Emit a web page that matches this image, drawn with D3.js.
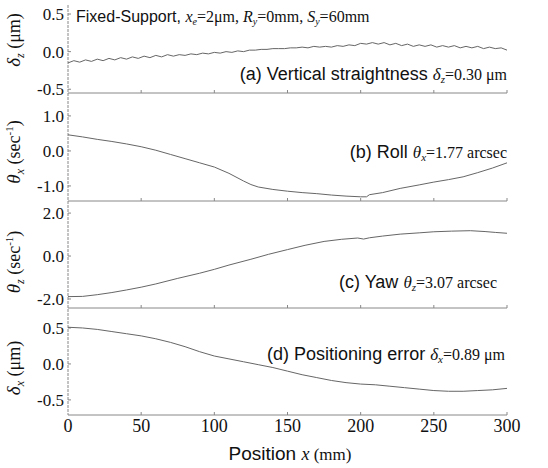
<!DOCTYPE html>
<html><head><meta charset="utf-8">
<script src="https://cdn.jsdelivr.net/npm/d3@7"></script>
<style>body{margin:0;background:#fff}</style>
</head><body><svg id="c" width="548" height="468"></svg>
<script>
// ---------- DATA ----------
const positionA = [0,4,8,12,16,20,24,28,32,36,40,44,48,52,56,60,64,68,72,76,80,84,88,92,96,100,104,108,112,116,120,124,128,132,136,140,144,148,152,156,160,164,168,172,176,180,184,188,192,196,200,204,208,212,216,220,224,228,232,236,240,244,248,252,256,260,264,268,272,276,280,284,288,292,296,300];
const straightnessA = [-0.15,-0.12,-0.14,-0.11,-0.13,-0.10,-0.12,-0.09,-0.11,-0.08,-0.10,-0.07,-0.09,-0.06,-0.08,-0.05,-0.07,-0.04,-0.06,-0.04,-0.05,-0.03,-0.04,-0.02,-0.03,-0.01,-0.02,0.00,-0.01,0.01,0.00,0.02,0.02,0.03,0.03,0.04,0.04,0.04,0.05,0.05,0.06,0.05,0.07,0.06,0.07,0.06,0.08,0.07,0.09,0.08,0.11,0.10,0.12,0.10,0.12,0.09,0.11,0.08,0.10,0.07,0.09,0.07,0.09,0.06,0.08,0.06,0.08,0.05,0.07,0.05,0.07,0.04,0.06,0.04,0.05,0.02];

const positionB = [0,10,20,30,40,50,60,70,80,90,100,110,120,125,130,140,150,160,170,180,190,200,204,206,215,227,240,250,260,270,280,290,300];
const rollB = [0.46,0.40,0.33,0.27,0.20,0.12,0.02,-0.10,-0.22,-0.34,-0.46,-0.64,-0.86,-0.96,-1.03,-1.10,-1.15,-1.19,-1.22,-1.26,-1.29,-1.31,-1.31,-1.25,-1.19,-1.07,-0.97,-0.89,-0.82,-0.74,-0.62,-0.49,-0.34];

const positionC = [0,10,20,30,40,50,60,75,90,100,110,125,137,150,162,175,187,198,202,206,215,227,240,250,262,275,285,292,300];
const yawC = [-1.89,-1.88,-1.80,-1.70,-1.58,-1.45,-1.30,-1.04,-0.80,-0.62,-0.42,-0.15,0.08,0.30,0.50,0.68,0.78,0.84,0.79,0.85,0.93,1.02,1.08,1.13,1.16,1.18,1.14,1.10,1.06];

const positionD = [0,10,20,30,40,50,60,70,80,90,100,110,120,130,140,150,160,170,180,190,200,210,220,230,240,250,260,270,280,290,300];
const positioningD = [0.51,0.50,0.48,0.45,0.42,0.39,0.35,0.30,0.24,0.17,0.11,0.07,0.03,-0.01,-0.05,-0.10,-0.15,-0.19,-0.23,-0.26,-0.28,-0.29,-0.31,-0.33,-0.35,-0.37,-0.38,-0.38,-0.37,-0.36,-0.34];

const xTicks = [0,50,100,150,200,250,300];
const yTicksA = [0.5,0,-0.5], yTickLabelsA = ["0.5","0.0","-0.5"];
const yTicksB = [1,0,-1], yTickLabelsB = ["1.0","0.0","-1.0"];
const yTicksC = [2,0,-2], yTickLabelsC = ["2.0","0.0","-2.0"];
const yTicksD = [0.5,0,-0.5], yTickLabelsD = ["0.5","0.0","-0.5"];

// ---------- LAYOUT ----------
const SANS = "'Liberation Sans', Arial, sans-serif";
const SERIF = "'Liberation Serif', 'Times New Roman', serif";
const svg = d3.select('#c');
const x = d3.scaleLinear().domain([0,300]).range([68,507]);
const LINE = '#666', AX = '#888', TXT = '#111';

const panels = [
  {xs: positionA, ys: straightnessA, top: 5, bottom: 93, lo: -0.55, hi: 0.62, ticks: yTicksA, labels: yTickLabelsA},
  {xs: positionB, ys: rollB, top: 97, bottom: 201, lo: -1.43, hi: 1.54, ticks: yTicksB, labels: yTickLabelsB},
  {xs: positionC, ys: yawC, top: 203, bottom: 308, lo: -2.42, hi: 2.47, ticks: yTicksC, labels: yTickLabelsC},
  {xs: positionD, ys: positioningD, top: 310, bottom: 415, lo: -0.71, hi: 0.75, ticks: yTicksD, labels: yTickLabelsD}
];

function rich(parent, px, py, anchor, parts) {
  const t = parent.append('text').attr('x', px).attr('y', py)
    .attr('text-anchor', anchor).attr('fill', TXT);
  let cur = 0;
  parts.forEach(p => {
    const b = p.b || 0;
    const s = t.append('tspan').text(p.t)
      .attr('font-family', p.f === 's' ? SANS : SERIF)
      .attr('font-size', p.size)
      .attr('font-style', p.i ? 'italic' : 'normal');
    if (b !== cur) { s.attr('dy', b - cur); cur = b; }
  });
  return t;
}

// vertical axis line
svg.append('line').attr('x1', x(0)).attr('x2', x(0)).attr('y1', 5).attr('y2', 415)
  .attr('stroke', AX).attr('stroke-width', 1).attr('stroke-dasharray', '3,1');

panels.forEach(p => {
  const y = d3.scaleLinear().domain([p.lo, p.hi]).range([p.bottom, p.top]);
  svg.append('line').attr('x1', x(0)).attr('x2', x(300)).attr('y1', y(p.lo)).attr('y2', y(p.lo))
    .attr('stroke', AX).attr('stroke-width', 1);
  svg.selectAll(null).data(xTicks.slice(1)).enter().append('line')
    .attr('x1', d => x(d)).attr('x2', d => x(d))
    .attr('y1', y(p.lo)).attr('y2', y(p.lo) - 3)
    .attr('stroke', AX).attr('stroke-width', 1);
  svg.selectAll(null).data(p.ticks).enter().append('line')
    .attr('x1', x(0)).attr('x2', x(0) + 3)
    .attr('y1', d => y(d)).attr('y2', d => y(d))
    .attr('stroke', AX).attr('stroke-width', 1);
  svg.selectAll(null).data(p.ticks).enter().append('text')
    .attr('x', x(0) - 4).attr('y', d => y(d)).attr('dy', '0.35em')
    .attr('text-anchor', 'end').attr('font-family', SERIF).attr('font-size', 17)
    .attr('fill', TXT)
    .text((d, i) => p.labels[i]);
  const line = d3.line().x((d, i) => x(p.xs[i])).y(d => y(d));
  svg.append('path').datum(p.ys).attr('d', line)
    .attr('fill', 'none').attr('stroke', LINE).attr('stroke-width', 1);
});

// x tick labels
svg.selectAll(null).data(xTicks).enter().append('text')
  .attr('x', d => x(d)).attr('y', 432).attr('text-anchor', 'middle')
  .attr('font-family', SERIF).attr('font-size', 18).attr('fill', TXT)
  .text(d => d);

// x axis title
rich(svg, 290, 460, 'middle', [
  {t: 'Position ', f: 's', size: 19},
  {t: 'x', size: 18, i: true},
  {t: ' (mm)', size: 17}
]);

// y axis titles
const yTitles = [
  {yc: 40, parts: [{t:'δ', size:19, i:true},{t:'z', size:12, i:true, b:4},{t:' (μm)', size:18}]},
  {yc: 152, parts: [{t:'θ', size:19, i:true},{t:'x', size:12, i:true, b:4},{t:' (sec', size:18},{t:'-1', size:11, b:-7},{t:')', size:18}]},
  {yc: 262, parts: [{t:'θ', size:19, i:true},{t:'z', size:12, i:true, b:4},{t:' (sec', size:18},{t:'-1', size:11, b:-7},{t:')', size:18}]},
  {yc: 368, parts: [{t:'δ', size:19, i:true},{t:'x', size:12, i:true, b:4},{t:' (μm)', size:18}]}
];
yTitles.forEach(tt => {
  const g = svg.append('g').attr('transform', `translate(20,${tt.yc}) rotate(-90)`);
  rich(g, 0, 0, 'middle', tt.parts);
});

// title
rich(svg, 76, 22, 'start', [
  {t: 'Fixed-Support, ', f: 's', size: 16},
  {t: 'x', size: 16, i: true},
  {t: 'e', size: 10, i: true, b: 3},
  {t: '=2μm, ', size: 16},
  {t: 'R', size: 16, i: true},
  {t: 'y', size: 10, i: true, b: 3},
  {t: '=0mm, ', size: 16},
  {t: 'S', size: 16, i: true},
  {t: 'y', size: 10, i: true, b: 3},
  {t: '=60mm', size: 16}
]);

// panel annotations
rich(svg, 507, 80, 'end', [
  {t: '(a) Vertical straightness ', f: 's', size: 18},
  {t: 'δ', size: 17, i: true},
  {t: 'z', size: 11, i: true, b: 3},
  {t: '=0.30 μm', size: 16}
]);
rich(svg, 507, 158, 'end', [
  {t: '(b) Roll ', f: 's', size: 18},
  {t: 'θ', size: 17, i: true},
  {t: 'x', size: 11, i: true, b: 3},
  {t: '=1.77 arcsec', size: 16}
]);
rich(svg, 497, 288, 'end', [
  {t: '(c) Yaw  ', f: 's', size: 18},
  {t: 'θ', size: 17, i: true},
  {t: 'z', size: 11, i: true, b: 3},
  {t: '=3.07 arcsec', size: 16}
]);
rich(svg, 505, 360, 'end', [
  {t: '(d) Positioning error ', f: 's', size: 18},
  {t: 'δ', size: 17, i: true},
  {t: 'x', size: 11, i: true, b: 3},
  {t: '=0.89 μm', size: 16}
]);
</script></body></html>
